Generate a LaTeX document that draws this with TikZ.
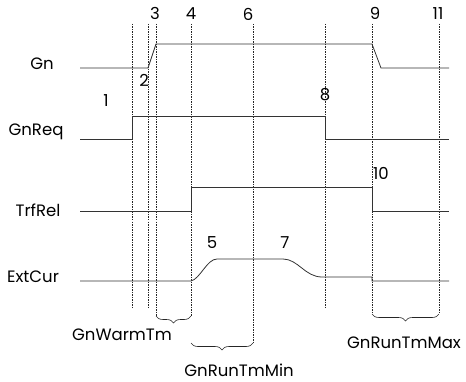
\documentclass[tikz,border=0pt]{standalone}
\usepackage{fontspec}
\setmainfont{Poppins}
\usetikzlibrary{decorations.pathreplacing}
\begin{document}
\begin{tikzpicture}[x=1pt,y=-1pt,
  sig/.style={draw=black!80,line width=0.8pt},
  guide/.style={draw=black!85,line width=0.5pt,dash pattern=on 1.5pt off 1pt},
  lbl/.style={inner sep=0pt,font=\fontsize{16.5}{18}\selectfont},
  num/.style={inner sep=0pt,font=\fontsize{16.5}{18}\selectfont},
  brc/.style={draw=black!85,line width=0.6pt,decorate,decoration={brace,mirror,amplitude=7pt}}]
\useasboundingbox (0,0) rectangle (466,382);
% guide lines
\foreach \n/\x/\yb in {a/132/308, b/148/308, c/156/316, d/191/316, f/253/343, h/325/308, i/372/314, k/439/314}{
  \coordinate (t\n) at (\x,24);
  \coordinate (b\n) at (\x,\yb);
  \draw[guide] (t\n) -- (b\n);
}
\coordinate (bd2) at (191,343);
% Gn
\coordinate (g0) at (80,68); \coordinate (g1) at (148,68); \coordinate (g2) at (156,44);
\coordinate (g3) at (372,44); \coordinate (g4) at (381,68); \coordinate (g5) at (449,68);
\draw[sig] (g0) -- (g1) -- (g2) -- (g3) -- (g4) -- (g5);
% GnReq
\coordinate (r0) at (80,139); \coordinate (r1) at (132,139); \coordinate (r2) at (132,116);
\coordinate (r3) at (325,116); \coordinate (r4) at (325,139); \coordinate (r5) at (449,139);
\draw[sig] (r0) -- (r1) -- (r2) -- (r3) -- (r4) -- (r5);
% TrfRel
\coordinate (s0) at (80,211); \coordinate (s1) at (191,211); \coordinate (s2) at (191,187);
\coordinate (s3) at (372,187); \coordinate (s4) at (372,211); \coordinate (s5) at (449,211);
\draw[sig] (s0) -- (s1) -- (s2) -- (s3) -- (s4) -- (s5);
% ExtCur
\coordinate (e0) at (80,281); \coordinate (e1) at (191,281); \coordinate (e2) at (217,259);
\coordinate (e3) at (283,259); \coordinate (e4) at (322,277); \coordinate (e5) at (372,277);
\coordinate (e6) at (372,281); \coordinate (e7) at (449,281);
\draw[sig] (e0) -- (e1) .. controls (200,279) and (207,259) .. (e2) -- (e3)
  .. controls (298,259) and (305,277) .. (e4) -- (e5) -- (e6) -- (e7);
% signal labels
\node[lbl] (lGn) at (42,64) {Gn};
\node[lbl] (lGnReq) at (36,132) {GnReq};
\node[lbl] (lTrf) at (38,210) {TrfRel};
\node[lbl] (lExt) at (33,277) {ExtCur};
% numbers
\node[num] (n1) at (106,101) {1};
\node[num] (n2) at (144,80) {2};
\node[num] (n3) at (155,13) {3};
\node[num] (n4) at (191,14) {4};
\node[num] (n5) at (212,243) {5};
\node[num] (n6) at (248,14) {6};
\node[num] (n7) at (285,243) {7};
\node[num] (n8) at (325,95) {8};
\node[num] (n9) at (375,13) {9};
\node[num] (n10) at (381,173) {10};
\node[num] (n11) at (438,14) {11};
% braces
\draw[brc] (bc) -- (bd) node[midway,coordinate] (w1) {};
\draw[brc] (bd2) -- (bf) node[midway,coordinate] (w2) {};
\draw[brc] (bi) -- (bk) node[midway,coordinate] (w3) {};
\node[lbl] (lWarm) at (122,335) {GnWarmTm};
\node[lbl] (lMin) at (239,370) {GnRunTmMin};
\node[lbl] (lMax) at (404,343) {GnRunTmMax};
\end{tikzpicture}
\end{document}
